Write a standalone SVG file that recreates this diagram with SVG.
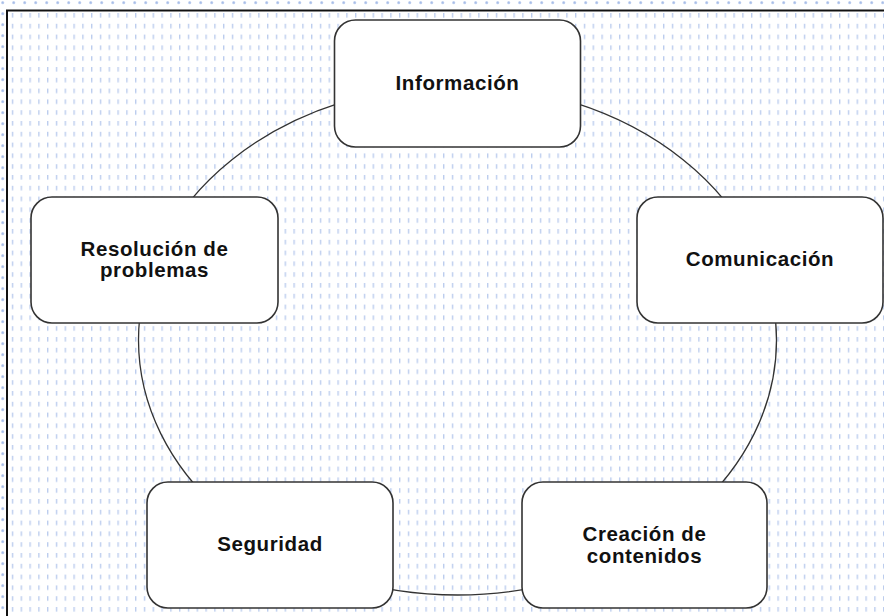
<svg xmlns="http://www.w3.org/2000/svg" width="884" height="616" viewBox="0 0 884 616">
  <defs>
    <pattern id="dots" x="0" y="0" width="11" height="11" patternUnits="userSpaceOnUse">
      <circle cx="2.7" cy="2.7" r="1.6" fill="#c6d4f0"/>
      <circle cx="2.7" cy="2.7" r="0.9" fill="#a6bde8"/>
    </pattern>
    <pattern id="dashes" x="3" y="13" width="8.8" height="10.8" patternUnits="userSpaceOnUse">
      <rect x="0" y="0" width="1.4" height="4.6" fill="#bccdee"/>
    </pattern>
  </defs>
  <style>
    .box { fill: #ffffff; stroke: #333333; stroke-width: 1.6; }
    .lbl { font-family: "Liberation Sans", Arial, sans-serif; font-weight: bold; font-size: 20.5px; letter-spacing: 0.6px; fill: #111111; text-anchor: middle; }
    .conn { fill: none; stroke: #333333; stroke-width: 1.3; }
  </style>
  <rect x="0" y="0" width="884" height="616" fill="#ffffff"/>
  <rect x="0" y="0" width="884" height="616" fill="url(#dots)"/>
  <rect x="7" y="10" width="877" height="606" fill="#ffffff"/>
  <rect x="7" y="10" width="877" height="606" fill="url(#dashes)"/>
  <path d="M7,616 V10.5 H884" fill="none" stroke="#111111" stroke-width="2"/>

  <g id="connectors">
    <ellipse class="conn" cx="457.5" cy="340" rx="319" ry="255"/>
  </g>

  <g id="informacion">
    <rect class="box" x="334.5" y="20" width="246" height="127" rx="21" ry="21"/>
    <text class="lbl" x="457.5" y="90">Información</text>
  </g>
  <g id="comunicacion">
    <rect class="box" x="637" y="197" width="246" height="126" rx="21" ry="21"/>
    <text class="lbl" x="760" y="266">Comunicación</text>
  </g>
  <g id="creacion">
    <rect class="box" x="522" y="482" width="245" height="126" rx="21" ry="21"/>
    <text class="lbl" x="644.5" y="541">Creación de</text>
    <text class="lbl" x="644.5" y="563">contenidos</text>
  </g>
  <g id="seguridad">
    <rect class="box" x="147" y="482" width="246" height="126" rx="21" ry="21"/>
    <text class="lbl" x="270" y="551">Seguridad</text>
  </g>
  <g id="resolucion">
    <rect class="box" x="31" y="197" width="247" height="126" rx="21" ry="21"/>
    <text class="lbl" x="154.5" y="255.5">Resolución de</text>
    <text class="lbl" x="154.5" y="277">problemas</text>
  </g>
</svg>
